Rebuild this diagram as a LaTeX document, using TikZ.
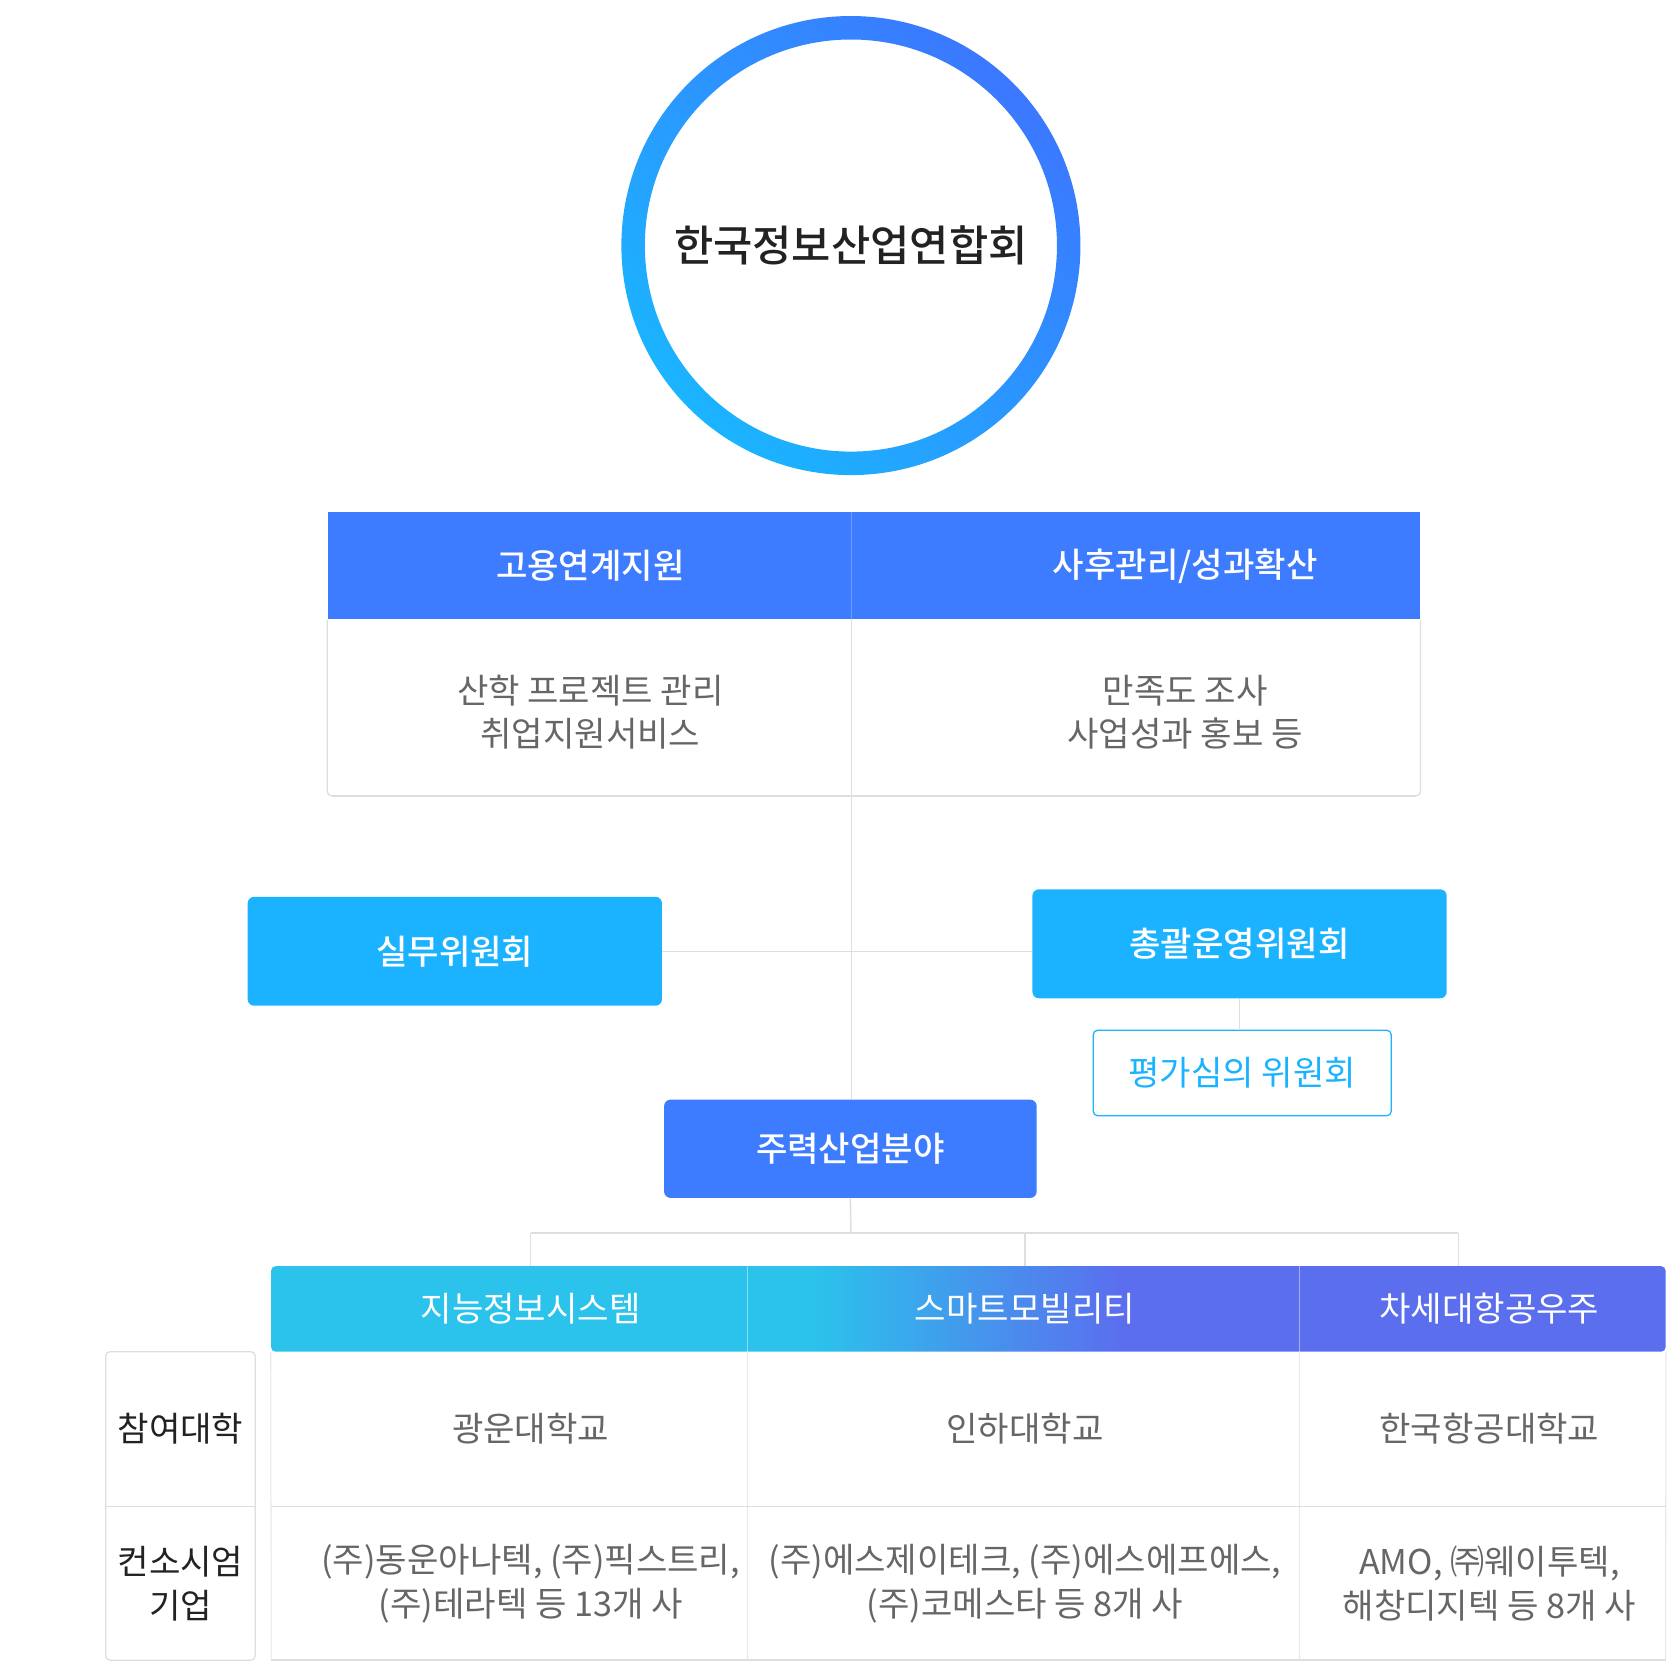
\documentclass[tikz,border=0pt]{standalone}
\usepackage{fontspec}
\setmainfont{Noto Sans CJK KR}
\newfontfamily\medium{Noto Sans CJK KR Medium}
\usetikzlibrary{positioning,fit,calc}
\definecolor{ringA}{HTML}{1BB4FF}
\definecolor{ringB}{HTML}{3B78FF}
\definecolor{hblue}{HTML}{3D7BFF}
\definecolor{sky}{HTML}{1BB3FF}
\definecolor{cyanh}{HTML}{2BC3EB}
\definecolor{indh}{HTML}{5B6EEE}
\definecolor{grayln}{HTML}{DEDEDE}
\definecolor{graytx}{HTML}{666666}
\definecolor{darktx}{HTML}{222222}
\pgfdeclarehorizontalshading{hdrshade}{100bp}{color(0bp)=(cyanh); color(44.4bp)=(cyanh); color(55.5bp)=(indh); color(100bp)=(indh)}
\newcommand{\tx}{\fontsize{16}{20.5}\selectfont}

\begin{document}
\begin{tikzpicture}[x=0.5pt, y=-0.5pt,
    ln/.style={draw=grayln, line width=0.7pt},
    cbox/.style={rounded corners=3pt, fill=sky, text=white, font=\tx\medium, minimum width=194pt, minimum height=51pt, inner sep=0},
    hcell/.style={fill=hblue, minimum height=50pt, inner sep=0},
    bcell/.style={fill=white, minimum height=82.5pt, inner sep=0},
    body/.style={text=graytx, font=\tx, align=center, inner sep=0}]
  \useasboundingbox (0,0) rectangle (1565,1567);

  % circle
  \node [circle, minimum size=215pt, inner sep=0, font=\fontsize{20}{22}\selectfont\medium, text=darktx] (org) at (797,230) {한국정보산업연합회};
  \shade [left color=ringA, right color=ringB, shading angle=135, even odd rule]
      (org.center) circle[radius=215] (org.center) circle[radius=193];

  % top table
  \node [hcell, minimum width=245pt] (hA) at (552,530) {};
  \node [hcell, minimum width=266.5pt] (hB) at (1063.5,530) {};
  \node [bcell, minimum width=245pt] (bA) at (552,662.5) {};
  \node [bcell, minimum width=266.5pt] (bB) at (1063.5,662.5) {};
  \draw [grayln, line width=0.6pt, rounded corners=2pt] (hA.south west) -- (bA.south west) -- (bB.south east) -- (hB.south east);
  \draw [grayln, line width=1pt] ([xshift=2pt]bA.south west) -- ([xshift=-2pt]bB.south east);
  \draw [hblue!75!white, line width=0.6pt] (hA.north east) -- (hA.south east);
  \draw [ln] (bA.north east) -- (bA.south east);
  \node [text=white, font=\tx\medium, inner sep=0] (tA) at (553,530) {고용연계지원};
  \node [text=white, font=\tx\medium, inner sep=0] (tB) at (1110,530) {사후관리/성과확산};
  \node [body] (sA) at (553,667) {산학 프로젝트 관리\\취업지원서비스};
  \node [body] (sB) at (1110,667) {만족도 조사\\사업성과 홍보 등};

  % committees
  \node [cbox] (silmu) at (426,891) {실무위원회};
  \node [cbox] (chong) at (1161,884) {총괄운영위원회};
  \node [draw=sky, line width=0.6pt, rounded corners=2pt, text=sky, font=\tx, minimum width=139.5pt, minimum height=40pt, inner sep=0] (pyeong) at (1163.5,1005) {평가심의 위원회};
  \node [cbox, fill=hblue, minimum width=174.5pt, minimum height=46pt] (jury) at (796.5,1076) {주력산업분야};

  \draw [ln] (bA.south east) -- (bA.south east |- jury.north);
  \draw [ln] (silmu.east) -- (silmu.east -| chong.west);
  \draw [ln] (chong.south) -- (chong.south |- pyeong.north);

  % bottom table
  \node [shade, shading=hdrshade, rounded corners=2pt, minimum width=653pt, minimum height=40pt, inner sep=0] (hdr) at (907,1226) {};
  \node [text=white, font=\tx, inner sep=0] (fA) at (497,1226) {지능정보시스템};
  \node [text=white, font=\tx, inner sep=0] (fB) at (960,1226) {스마트모빌리티};
  \node [text=white, font=\tx, inner sep=0] (fC) at (1395,1226) {차세대항공우주};
  \draw [white, opacity=0.45, line width=0.5pt] (700,1186) -- (700,1266) (1217,1186) -- (1217,1266);

  \coordinate (bus) at (797,1155);
  \coordinate (dC) at (1366,1155);
  \draw [ln] (jury.south) -- (bus);
  \draw [ln] (bus -| fA) -- (dC);
  \draw [ln] (bus -| fA) -- (fA |- hdr.north);
  \draw [ln] (bus -| fB) -- (fB |- hdr.north);
  \draw [ln] (dC) -- (dC |- hdr.north);

  \draw [grayln!70!white, line width=0.5pt] (hdr.south west) -- (254,1555) (700,1266) -- (700,1555) (1217,1266) -- (1217,1555) (hdr.south east) -- (1560,1555);
  \draw [grayln, line width=0.6pt] (254,1411) -- (1560,1411);
  \draw [grayln, line width=1pt] (254,1555) -- (1560,1555);

  \node [draw=grayln, line width=0.6pt, rounded corners=2pt, minimum width=70pt, minimum height=144.5pt, inner sep=0] (lbl) at (169,1410.5) {};
  \draw [grayln, line width=0.6pt] (lbl.west |- 0,1411) -- (lbl.east |- 0,1411);
  \node [text=darktx, font=\tx, align=center, inner sep=0] (rA) at (169,1338) {참여대학};
  \node [text=darktx, font=\tx, align=center, inner sep=0] (rB) at (169,1483) {컨소시엄\\기업};

  \node [body] (uA) at (497,1338) {광운대학교};
  \node [body] (uB) at (960,1338) {인하대학교};
  \node [body] (uC) at (1395,1338) {한국항공대학교};
  \node [body] (kA) at (497,1483) {(주)동운아나텍, (주)픽스트리,\\(주)테라텍 등 13개 사};
  \node [body] (kB) at (960,1483) {(주)에스제이테크, (주)에스에프에스,\\(주)코메스타 등 8개 사};
  \node [body] (kC) at (1395,1483) {AMO, ㈜웨이투텍,\\해창디지텍 등 8개 사};
\end{tikzpicture}
\end{document}
